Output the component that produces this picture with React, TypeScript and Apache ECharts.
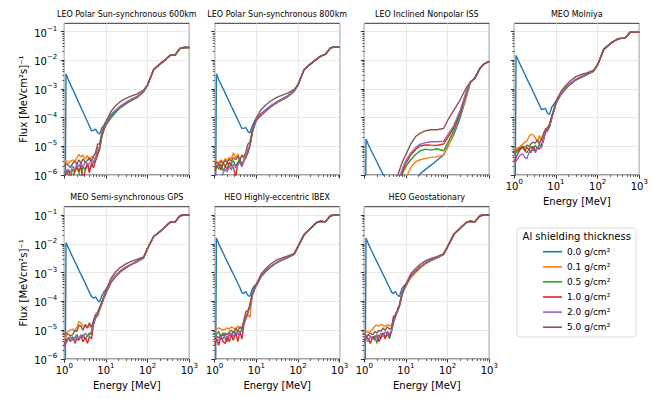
import { useEffect, useRef } from 'react';
import * as echarts from 'echarts';

const FONT = 'DejaVu Sans';

// Energy grid [MeV]
const energy = [1, 1.1, 1.25, 1.4, 1.6, 1.8, 2, 2.25, 2.5, 2.8, 3.2, 3.6, 4, 4.5, 5, 5.6, 6.3, 7, 8, 9,
  10, 13, 17, 22, 30, 40, 55, 80, 100, 140, 200, 280, 350, 450, 600, 750, 1000];

const thickness = ['0.0 g/cm²', '0.1 g/cm²', '0.5 g/cm²', '1.0 g/cm²', '2.0 g/cm²', '5.0 g/cm²'];
const colors = ['#1f77b4', '#ff7f0e', '#2ca02c', '#d62728', '#9467bd', '#8c564b'];
const panelTitles = [
  'LEO Polar Sun-synchronous 600km', 'LEO Polar Sun-synchronous 800km', 'LEO Inclined Nonpolar ISS',
  'MEO Molniya', 'MEO Semi-synchronous GPS', 'HEO Highly-eccentric IBEX', 'HEO Geostationary',
];
const xTickValues = [0, 1, 2, 3]; // log10 of 1, 10, 100, 1000
const yTickValues = [-6, -5, -4, -3, -2, -1];

// ---------- LEO 600 km ----------
const tailLeo600 = [1.4e-3, 4.8e-3, 7.5e-3, 1.1e-2, 1.5e-2, 1.5e-2, 2.6e-2, 2.8e-2, 2.8e-2];
const leo600 = [
  [1e-12, 3.3e-3, 2.1e-3, 1.45e-3, 9.6e-4, 6.6e-4, 4.7e-4, 3.2e-4, 2.3e-4, 1.6e-4, 1.05e-4, 7.2e-5, 5.1e-5, 3.5e-5, 3.6e-5, 4.0e-5, 3.0e-5, 2.7e-5, 4.4e-5, 5.6e-5, 7.2e-5, 1.25e-4, 1.8e-4, 2.5e-4, 3.4e-4, 4.3e-4, 5.4e-4, 8.3e-4, ...tailLeo600],
  [2.8e-6, 3.2e-6, 2.6e-6, 3.0e-6, 3.4e-6, 3.0e-6, 4.0e-6, 5.2e-6, 4.2e-6, 5.0e-6, 3.6e-6, 4.8e-6, 3.2e-6, 4.5e-6, 3.8e-6, 4.2e-6, 6.0e-6, 8.5e-6, 2.6e-5, 4.2e-5, 6.0e-5, 1.1e-4, 1.65e-4, 2.3e-4, 3.1e-4, 3.9e-4, 5.0e-4, 8.0e-4, ...tailLeo600],
  [1.2e-6, 1.5e-6, 1.0e-6, 8e-7, 1.6e-6, 1.3e-6, 2.2e-6, 1.2e-6, 7e-7, 2.0e-6, 1.5e-6, 2.6e-6, 1.4e-6, 2.2e-6, 3.0e-6, 3.4e-6, 5.0e-6, 7.5e-6, 2.2e-5, 3.8e-5, 5.4e-5, 9.5e-5, 1.5e-4, 2.2e-4, 3.0e-4, 3.9e-4, 5.0e-4, 8.0e-4, ...tailLeo600],
  [9e-7, 1.1e-6, 1.4e-6, 1.0e-6, 7e-7, 1.5e-6, 1.8e-6, 1.3e-6, 2.2e-6, 6e-7, 1.6e-6, 2.4e-6, 1.2e-6, 2.6e-6, 1.8e-6, 3.0e-6, 5.5e-6, 8e-6, 2.5e-5, 4.2e-5, 6.0e-5, 1.1e-4, 1.65e-4, 2.35e-4, 3.2e-4, 4.0e-4, 5.1e-4, 8.1e-4, ...tailLeo600],
  [1.0e-6, 1.3e-6, 1.6e-6, 1.2e-6, 2.0e-6, 1.6e-6, 2.4e-6, 2.0e-6, 2.8e-6, 1.8e-6, 3.0e-6, 2.2e-6, 2.6e-6, 3.2e-6, 2.5e-6, 4.0e-6, 9e-6, 9e-6, 2.8e-5, 4.5e-5, 6.2e-5, 1.15e-4, 1.75e-4, 2.45e-4, 3.3e-4, 4.2e-4, 5.3e-4, 8.3e-4, ...tailLeo600],
  [2.0e-6, 2.5e-6, 2.2e-6, 1.8e-6, 2.6e-6, 3.0e-6, 2.4e-6, 3.4e-6, 2.6e-6, 3.6e-6, 2.8e-6, 3.2e-6, 4.0e-6, 3.0e-6, 4.5e-6, 6.0e-6, 1.2e-5, 1.2e-5, 3.0e-5, 5.0e-5, 7.2e-5, 1.6e-4, 2.6e-4, 3.6e-4, 4.7e-4, 5.6e-4, 6.6e-4, 9.2e-4, ...tailLeo600],
];

// ---------- LEO 800 km ----------
const tailLeo800 = [1.4e-3, 4.8e-3, 7.5e-3, 1.1e-2, 1.4e-2, 1.6e-2, 2.7e-2, 2.9e-2, 2.9e-2];
const leo800 = [
  [1e-12, 3.4e-3, 2.1e-3, 1.5e-3, 1.0e-3, 7e-4, 5e-4, 3.5e-4, 2.5e-4, 1.8e-4, 1.2e-4, 8.3e-5, 6e-5, 4.2e-5, 4.3e-5, 4.5e-5, 3.3e-5, 2.9e-5, 5.2e-5, 7.5e-5, 9.5e-5, 1.4e-4, 1.9e-4, 2.6e-4, 3.5e-4, 4.4e-4, 5.6e-4, 8.6e-4, ...tailLeo800],
  [3.3e-6, 3.0e-6, 2.6e-6, 3.4e-6, 2.8e-6, 3.8e-6, 3.2e-6, 4.2e-6, 3.6e-6, 6.0e-6, 4.0e-6, 5.5e-6, 3.4e-6, 4.6e-6, 3.8e-6, 5.0e-6, 7e-6, 1.1e-5, 3.2e-5, 5.5e-5, 8.5e-5, 1.25e-4, 1.75e-4, 2.4e-4, 3.3e-4, 4.2e-4, 5.3e-4, 8.4e-4, ...tailLeo800],
  [1.7e-6, 2.2e-6, 1.6e-6, 2.4e-6, 1.4e-6, 2.0e-6, 2.8e-6, 1.8e-6, 2.5e-6, 3.2e-6, 2.0e-6, 2.8e-6, 3.6e-6, 2.4e-6, 3.0e-6, 4.2e-6, 6e-6, 1.0e-5, 3.0e-5, 5.2e-5, 8.0e-5, 1.2e-4, 1.7e-4, 2.35e-4, 3.2e-4, 4.1e-4, 5.2e-4, 8.3e-4, ...tailLeo800],
  [1.4e-6, 1.8e-6, 2.4e-6, 1.5e-6, 2.6e-6, 2.0e-6, 1.6e-6, 2.8e-6, 2.2e-6, 1.8e-6, 9e-7, 2.6e-6, 3.0e-6, 2.0e-6, 3.4e-6, 4.0e-6, 7e-6, 1.1e-5, 3.2e-5, 5.5e-5, 8.5e-5, 1.25e-4, 1.75e-4, 2.4e-4, 3.3e-4, 4.2e-4, 5.3e-4, 8.4e-4, ...tailLeo800],
  [1.1e-6, 8e-7, 6e-7, 7e-7, 1.2e-6, 1.6e-6, 1.3e-6, 2.0e-6, 1.5e-6, 2.4e-6, 1.8e-6, 2.2e-6, 2.8e-6, 1.9e-6, 3.0e-6, 4.5e-6, 8e-6, 1.0e-5, 3.4e-5, 5.8e-5, 8.8e-5, 1.3e-4, 1.8e-4, 2.5e-4, 3.4e-4, 4.3e-4, 5.4e-4, 8.5e-4, ...tailLeo800],
  [2.5e-6, 2.8e-6, 2.4e-6, 3.0e-6, 2.6e-6, 3.2e-6, 2.8e-6, 3.6e-6, 3.0e-6, 4.0e-6, 3.4e-6, 4.5e-6, 3.2e-6, 5.0e-6, 4.2e-6, 6.5e-6, 1.2e-5, 1.4e-5, 3.6e-5, 6.2e-5, 1.0e-4, 1.9e-4, 2.8e-4, 3.8e-4, 5.0e-4, 6.0e-4, 7.0e-4, 9.5e-4, ...tailLeo800],
];

// ---------- LEO ISS ----------
const tailIss = [1.7e-3, 2.4e-3, 5.3e-3, 7.5e-3, 9.2e-3];
const iss = [
  [1e-12, 1.8e-5, 1.15e-5, 8.1e-6, 5.5e-6, 3.9e-6, 2.9e-6, 2.0e-6, 1.5e-6, 1.07e-6, 7.2e-7, 5e-7, 3.5e-7, 2.5e-7, 1.8e-7, 1.3e-7, 1e-7, 1e-7, 1.1e-7, 1.3e-7, 1.7e-7, 3.5e-7, 6e-7, 1.1e-6, 1.6e-6, 2.2e-6, 3.2e-6, 5e-6, 1.0e-5, 2.5e-5, 1.0e-4, 5e-4, ...tailIss],
  [2e-8, 2e-8, 3e-8, 3e-8, 4e-8, 4e-8, 5e-8, 5e-8, 6e-8, 6e-8, 7e-8, 8e-8, 9e-8, 1e-7, 1.1e-7, 1.3e-7, 1.5e-7, 2e-7, 3e-7, 5e-7, 8e-7, 1.8e-6, 2.9e-6, 3.4e-6, 3.8e-6, 4.1e-6, 4.3e-6, 5e-6, 9e-6, 3.0e-5, 1.3e-4, 5.5e-4, ...tailIss],
  [3e-8, 4e-8, 4e-8, 5e-8, 5e-8, 6e-8, 7e-8, 8e-8, 9e-8, 1e-7, 1.1e-7, 1.3e-7, 1.5e-7, 1.8e-7, 2.2e-7, 2.8e-7, 3.5e-7, 5e-7, 1.0e-6, 1.5e-6, 2.0e-6, 3.4e-6, 5.2e-6, 7.0e-6, 8.0e-6, 7.4e-6, 8.2e-6, 7e-6, 1.3e-5, 3.6e-5, 1.4e-4, 7e-4, ...tailIss],
  [4e-8, 5e-8, 5e-8, 6e-8, 7e-8, 8e-8, 9e-8, 1e-7, 1.2e-7, 1.4e-7, 1.6e-7, 1.9e-7, 2.2e-7, 2.6e-7, 3.2e-7, 4e-7, 5e-7, 7e-7, 1.1e-6, 1.8e-6, 2.6e-6, 5.0e-6, 7.8e-6, 1.05e-5, 1.12e-5, 1.1e-5, 1.08e-5, 1.2e-5, 2.0e-5, 4.5e-5, 1.5e-4, 7.5e-4, ...tailIss],
  [5e-8, 6e-8, 6e-8, 7e-8, 8e-8, 9e-8, 1e-7, 1.2e-7, 1.4e-7, 1.6e-7, 1.9e-7, 2.2e-7, 2.6e-7, 3.1e-7, 3.8e-7, 4.8e-7, 6e-7, 8e-7, 1.5e-6, 2.3e-6, 3.2e-6, 5.8e-6, 9e-6, 1.2e-5, 1.35e-5, 1.45e-5, 1.45e-5, 1.5e-5, 2.5e-5, 5.2e-5, 1.8e-4, 8e-4, ...tailIss],
  [6e-8, 7e-8, 8e-8, 9e-8, 1e-7, 1.1e-7, 1.2e-7, 1.4e-7, 1.6e-7, 1.8e-7, 2e-7, 2.3e-7, 2.6e-7, 3e-7, 3.5e-7, 5e-7, 9e-7, 1.5e-6, 2.6e-6, 3.8e-6, 5.2e-6, 1.2e-5, 2.2e-5, 2.9e-5, 3.5e-5, 3.8e-5, 3.8e-5, 4.2e-5, 8e-5, 1.8e-4, 4.2e-4, 1.1e-3, ...tailIss],
];

// ---------- MEO Molniya ----------
const tailMolniya = [7e-3, 2.4e-2, 3.8e-2, 5.2e-2, 5.8e-2, 5.8e-2, 9.5e-2, 9.6e-2, 9.5e-2];
const molniya = [
  [1e-12, 1.5e-2, 9.9e-3, 6.9e-3, 4.6e-3, 3.2e-3, 2.3e-3, 1.6e-3, 1.2e-3, 8.3e-4, 5.5e-4, 3.8e-4, 2.8e-4, 1.9e-4, 2.0e-4, 2.1e-4, 1.4e-4, 1.3e-4, 2.4e-4, 3.0e-4, 3.8e-4, 7e-4, 1.1e-3, 1.55e-3, 2.15e-3, 2.65e-3, 3.25e-3, 4.2e-3, ...tailMolniya],
  [7.5e-6, 8e-6, 9e-6, 1.0e-5, 1.2e-5, 1.4e-5, 1.5e-5, 2.2e-5, 2.6e-5, 2.5e-5, 2.0e-5, 1.4e-5, 2.4e-5, 1.5e-5, 2.2e-5, 3.5e-5, 4e-5, 5e-5, 1.0e-4, 1.8e-4, 3.2e-4, 6.3e-4, 1.0e-3, 1.45e-3, 2.05e-3, 2.55e-3, 3.15e-3, 4.2e-3, ...tailMolniya],
  [5.5e-6, 6e-6, 7e-6, 8e-6, 9e-6, 7e-6, 6e-6, 8e-6, 1.0e-5, 7e-6, 1.1e-5, 8e-6, 1.2e-5, 1.0e-5, 1.7e-5, 3.3e-5, 4e-5, 4.8e-5, 1.0e-4, 1.8e-4, 3.1e-4, 6.2e-4, 1.0e-3, 1.45e-3, 2.05e-3, 2.55e-3, 3.15e-3, 4.2e-3, ...tailMolniya],
  [3e-6, 4e-6, 6e-6, 8e-6, 1.0e-5, 7e-6, 9e-6, 8e-6, 6e-6, 1.0e-5, 7e-6, 9e-6, 8e-6, 1.1e-5, 1.6e-5, 3.0e-5, 3.5e-5, 5e-5, 1.05e-4, 1.9e-4, 3.3e-4, 6.5e-4, 1.05e-3, 1.5e-3, 2.1e-3, 2.6e-3, 3.2e-3, 4.2e-3, ...tailMolniya],
  [2.6e-6, 3e-6, 4e-6, 5e-6, 5.5e-6, 4e-6, 3.7e-6, 6e-6, 7e-6, 8e-6, 6e-6, 9e-6, 1.1e-5, 9e-6, 1.8e-5, 3.2e-5, 4.2e-5, 5.2e-5, 1.1e-4, 1.95e-4, 3.4e-4, 6.7e-4, 1.08e-3, 1.55e-3, 2.15e-3, 2.7e-3, 3.3e-3, 4.3e-3, ...tailMolniya],
  [6.5e-6, 7e-6, 8e-6, 9e-6, 1.0e-5, 9e-6, 1.1e-5, 1.0e-5, 1.2e-5, 1.4e-5, 1.3e-5, 1.7e-5, 1.2e-5, 1.8e-5, 2.8e-5, 4.0e-5, 4.6e-5, 6e-5, 1.2e-4, 2.1e-4, 3.7e-4, 8e-4, 1.3e-3, 1.9e-3, 2.7e-3, 3.2e-3, 3.6e-3, 4.5e-3, ...tailMolniya],
];

// ---------- MEO GPS ----------
const tailGps = [7e-3, 1.8e-2, 2.7e-2, 4.3e-2, 5.6e-2, 5.6e-2, 9.5e-2, 0.1, 0.1];
const gps = [
  [1e-12, 1.1e-2, 7.3e-3, 5.1e-3, 3.4e-3, 2.4e-3, 1.75e-3, 1.2e-3, 8.7e-4, 6.3e-4, 4.2e-4, 2.9e-4, 2.1e-4, 1.5e-4, 1.3e-4, 1.45e-4, 1.1e-4, 9.5e-5, 1.6e-4, 2.2e-4, 2.6e-4, 4.8e-4, 7.8e-4, 1.15e-3, 1.55e-3, 1.95e-3, 2.45e-3, 3.3e-3, ...tailGps],
  [5e-6, 6e-6, 9e-6, 1.0e-5, 1.1e-5, 9e-6, 1.3e-5, 2.0e-5, 1.8e-5, 1.4e-5, 1.3e-5, 1.2e-5, 1.5e-5, 1.1e-5, 1.8e-5, 2.8e-5, 3.4e-5, 5.2e-5, 8.5e-5, 1.35e-4, 1.9e-4, 4.3e-4, 7.2e-4, 1.05e-3, 1.45e-3, 1.85e-3, 2.35e-3, 3.2e-3, ...tailGps],
  [3.5e-6, 4e-6, 5e-6, 6e-6, 4.5e-6, 5.5e-6, 7e-6, 5e-6, 6e-6, 7e-6, 5e-6, 6.5e-6, 8e-6, 7e-6, 1.5e-5, 2.6e-5, 3.2e-5, 5e-5, 8.5e-5, 1.35e-4, 1.95e-4, 4.4e-4, 7.4e-4, 1.08e-3, 1.48e-3, 1.88e-3, 2.4e-3, 3.25e-3, ...tailGps],
  [3e-6, 4.5e-6, 5.5e-6, 4e-6, 6e-6, 3.5e-6, 5e-6, 4.5e-6, 6.5e-6, 4e-6, 5.5e-6, 3.5e-6, 6e-6, 5e-6, 1.6e-5, 2.8e-5, 3.5e-5, 5.5e-5, 9e-5, 1.4e-4, 2.0e-4, 4.5e-4, 7.5e-4, 1.1e-3, 1.5e-3, 1.9e-3, 2.4e-3, 3.3e-3, ...tailGps],
  [2.5e-6, 3.5e-6, 5e-6, 4.5e-6, 5.5e-6, 4e-6, 6e-6, 5e-6, 7e-6, 5.5e-6, 8e-6, 6e-6, 7e-6, 9e-6, 1.7e-5, 3e-5, 3.6e-5, 5.6e-5, 9.2e-5, 1.45e-4, 2.1e-4, 4.7e-4, 7.8e-4, 1.15e-3, 1.55e-3, 1.95e-3, 2.5e-3, 3.35e-3, ...tailGps],
  [7e-6, 8e-6, 7e-6, 6.5e-6, 7e-6, 1.0e-5, 9e-6, 1.5e-5, 1.4e-5, 1.0e-5, 1.6e-5, 1.2e-5, 1.8e-5, 1.3e-5, 2.2e-5, 3.5e-5, 4.2e-5, 6.2e-5, 1.0e-4, 1.6e-4, 2.4e-4, 6e-4, 1.05e-3, 1.5e-3, 2.0e-3, 2.45e-3, 2.9e-3, 3.5e-3, ...tailGps],
];

// ---------- HEO IBEX ----------
const tailIbex = [8e-3, 2.1e-2, 3.5e-2, 5.5e-2, 6.1e-2, 5.8e-2, 9.5e-2, 0.1, 0.1];
const ibex = [
  [1e-12, 1.6e-2, 1.0e-2, 7.1e-3, 4.8e-3, 3.3e-3, 2.4e-3, 1.7e-3, 1.25e-3, 9e-4, 6e-4, 4.2e-4, 3.1e-4, 2.0e-4, 1.9e-4, 2.2e-4, 1.6e-4, 1.5e-4, 2.7e-4, 3.5e-4, 4.0e-4, 7.6e-4, 1.16e-3, 1.62e-3, 2.2e-3, 2.7e-3, 3.3e-3, 4.3e-3, ...tailIbex],
  [1.0e-5, 1.1e-5, 1.2e-5, 1.1e-5, 1.0e-5, 1.1e-5, 1.2e-5, 1.1e-5, 1.3e-5, 1.2e-5, 1.1e-5, 1.4e-5, 1.2e-5, 1.3e-5, 2.0e-5, 2.6e-5, 3.5e-5, 2.8e-5, 1.6e-4, 2.6e-4, 3.5e-4, 7.2e-4, 1.1e-3, 1.55e-3, 2.15e-3, 2.65e-3, 3.25e-3, 4.3e-3, ...tailIbex],
  [5e-6, 7e-6, 9e-6, 6e-6, 8e-6, 5e-6, 4e-6, 8e-6, 6.5e-6, 9e-6, 7e-6, 1.0e-5, 8e-6, 1.1e-5, 1.8e-5, 2.8e-5, 4.5e-5, 7e-5, 1.7e-4, 2.7e-4, 3.6e-4, 7.3e-4, 1.12e-3, 1.57e-3, 2.17e-3, 2.67e-3, 3.27e-3, 4.3e-3, ...tailIbex],
  [3e-6, 5e-6, 3e-6, 6e-6, 4e-6, 3.5e-6, 6e-6, 4e-6, 7e-6, 4.5e-6, 8e-6, 4e-6, 9e-6, 5e-6, 1.5e-5, 2.5e-5, 4.2e-5, 7e-5, 1.75e-4, 2.75e-4, 3.7e-4, 7.5e-4, 1.15e-3, 1.6e-3, 2.2e-3, 2.7e-3, 3.3e-3, 4.3e-3, ...tailIbex],
  [4e-6, 5e-6, 4.5e-6, 6e-6, 5e-6, 7e-6, 5.5e-6, 6.5e-6, 8e-6, 6e-6, 9e-6, 7e-6, 8e-6, 1.0e-5, 1.7e-5, 2.8e-5, 4.4e-5, 6.5e-5, 1.7e-4, 2.7e-4, 3.7e-4, 7.6e-4, 1.17e-3, 1.63e-3, 2.23e-3, 2.75e-3, 3.35e-3, 4.35e-3, ...tailIbex],
  [5e-6, 6e-6, 5.5e-6, 7e-6, 6.5e-6, 8e-6, 7e-6, 9e-6, 1.0e-5, 8e-6, 1.2e-5, 9e-6, 1.3e-5, 1.1e-5, 2.2e-5, 4.5e-5, 4.8e-5, 7.5e-5, 1.9e-4, 3.0e-4, 4.0e-4, 9e-4, 1.4e-3, 2.0e-3, 2.7e-3, 3.2e-3, 3.7e-3, 4.6e-3, ...tailIbex],
];

// ---------- HEO Geostationary ----------
const tailGeo = [8e-3, 2.1e-2, 3.5e-2, 5.5e-2, 6.1e-2, 5.8e-2, 9.5e-2, 0.1, 0.1];
const geo = [
  [1e-12, 1.6e-2, 1.0e-2, 7.0e-3, 4.7e-3, 3.3e-3, 2.4e-3, 1.7e-3, 1.25e-3, 9e-4, 6e-4, 4.2e-4, 3.1e-4, 2.1e-4, 1.9e-4, 2.2e-4, 1.6e-4, 1.5e-4, 2.8e-4, 3.5e-4, 4.0e-4, 7.5e-4, 1.15e-3, 1.6e-3, 2.2e-3, 2.7e-3, 3.3e-3, 4.3e-3, ...tailGeo],
  [8e-6, 9e-6, 8.5e-6, 9e-6, 1.1e-5, 1.4e-5, 1.5e-5, 1.4e-5, 1.6e-5, 1.5e-5, 1.3e-5, 1.6e-5, 1.4e-5, 1.5e-5, 2.2e-5, 3.2e-5, 4.6e-5, 7e-5, 1.6e-4, 2.5e-4, 3.4e-4, 6.5e-4, 1.0e-3, 1.45e-3, 2.05e-3, 2.6e-3, 3.2e-3, 4.3e-3, ...tailGeo],
  [4.5e-6, 5.5e-6, 7e-6, 6e-6, 5e-6, 6.5e-6, 3.5e-6, 7e-6, 5e-6, 8e-6, 6e-6, 7.5e-6, 5e-6, 9e-6, 1.8e-5, 3.0e-5, 4.8e-5, 7.2e-5, 1.7e-4, 2.7e-4, 3.6e-4, 7.2e-4, 1.1e-3, 1.55e-3, 2.15e-3, 2.65e-3, 3.25e-3, 4.3e-3, ...tailGeo],
  [4e-6, 6e-6, 5e-6, 3.5e-6, 6e-6, 5e-6, 7e-6, 4e-6, 6e-6, 8e-6, 5e-6, 9e-6, 6e-6, 1.0e-5, 3e-5, 3.2e-5, 5e-5, 7.5e-5, 1.75e-4, 2.75e-4, 3.7e-4, 7.4e-4, 1.13e-3, 1.6e-3, 2.2e-3, 2.7e-3, 3.3e-3, 4.3e-3, ...tailGeo],
  [3.5e-6, 5e-6, 4e-6, 6e-6, 5e-6, 4.5e-6, 7e-6, 5.5e-6, 8e-6, 6e-6, 9e-6, 7e-6, 8e-6, 9e-6, 1.8e-5, 3.0e-5, 4.6e-5, 6.8e-5, 1.7e-4, 2.7e-4, 3.75e-4, 7.6e-4, 1.16e-3, 1.62e-3, 2.22e-3, 2.75e-3, 3.35e-3, 4.35e-3, ...tailGeo],
  [5e-6, 6e-6, 7e-6, 8e-6, 7e-6, 9e-6, 8e-6, 1.0e-5, 9e-6, 1.2e-5, 1.0e-5, 1.3e-5, 1.1e-5, 1.2e-5, 2.4e-5, 3.6e-5, 5.2e-5, 7.8e-5, 1.9e-4, 3.0e-4, 4.0e-4, 9e-4, 1.4e-3, 1.95e-3, 2.6e-3, 3.1e-3, 3.6e-3, 4.6e-3, ...tailGeo],
];

const panelData = [leo600, leo800, iss, molniya, gps, ibex, geo];

// layout
const colLeft = [64.3, 214.7, 364.3, 514.3];
const rowTop = [23.3, 206.7];
const rowHeight = [151.7, 152.3];
const panelWidth = 125;
const panelPos = [[0, 0], [0, 1], [0, 2], [0, 3], [1, 0], [1, 1], [1, 2]];
const showYLabels = [true, false, false, false, true, false, false];
const showXLabels = [false, false, false, true, true, true, true];
const Y_MIN = -6;
const Y_MAX = -0.71;

const minorX: number[] = [];
for (let d = 0; d < 3; d++) for (let m = 2; m <= 9; m++) minorX.push(Math.log10(m * Math.pow(10, d)));
const minorY: number[] = [];
for (let d = -6; d < 0; d++) for (let m = 2; m <= 9; m++) {
  const v = Math.log10(m * Math.pow(10, d));
  if (v < Y_MAX) minorY.push(v);
}

const powLabel = (v: number) => {
  const n = Math.round(v);
  return `{b|10}{s|${n < 0 ? '\u2212' + -n : n}}`;
};
const labelRich = {
  b: { fontFamily: FONT, fontSize: 10, color: '#000', lineHeight: 13, verticalAlign: 'bottom' },
  s: { fontFamily: FONT, fontSize: 7, color: '#000', lineHeight: 8, verticalAlign: 'top' },
};

function buildOption() {
  const grid: any[] = [];
  const xAxis: any[] = [];
  const yAxis: any[] = [];
  const series: any[] = [];
  const graphic: any[] = [];

  panelPos.forEach(([r, c], i) => {
    const left = colLeft[c];
    const top = rowTop[r];
    const h = rowHeight[r];
    grid.push({
      left, top, width: panelWidth, height: h, show: true,
      borderColor: '#000', borderWidth: 0.8, backgroundColor: 'transparent',
      containLabel: false,
    });
    xAxis.push({
      type: 'value', gridIndex: i, min: 0, max: 3, interval: 1, position: 'bottom',
      axisLine: { show: false },
      axisTick: { show: true, length: 3.5, inside: false, customValues: xTickValues, lineStyle: { color: '#000', width: 0.8 } },
      splitLine: { show: true, lineStyle: { color: '#e2e2e2', width: 0.8 } },
      axisLabel: {
        show: showXLabels[i], margin: 3, formatter: powLabel, rich: labelRich,
        customValues: xTickValues, showMinLabel: true, showMaxLabel: true,
      },
      name: showXLabels[i] ? 'Energy [MeV]' : '',
      nameLocation: 'middle', nameGap: 21,
      nameTextStyle: { fontFamily: FONT, fontSize: 10, color: '#000' },
    });
    xAxis.push({
      type: 'value', gridIndex: i, min: 0, max: 3, position: 'bottom', offset: 0,
      axisLine: { show: false },
      axisTick: { show: true, length: 2, inside: false, customValues: minorX, lineStyle: { color: '#000', width: 0.6 } },
      splitLine: { show: false },
      axisLabel: { show: false },
    });
    yAxis.push({
      type: 'value', gridIndex: i, min: Y_MIN, max: Y_MAX, interval: 1, position: 'left',
      axisLine: { show: false },
      axisTick: { show: true, length: 3.5, inside: false, customValues: yTickValues, lineStyle: { color: '#000', width: 0.8 } },
      splitLine: { show: true, lineStyle: { color: '#e2e2e2', width: 0.8 } },
      axisLabel: {
        show: showYLabels[i], margin: 7, formatter: (v: number) => (v > -0.9 ? '' : powLabel(v)), rich: labelRich,
        customValues: yTickValues,
      },
      name: showYLabels[i] ? 'Flux [MeVcm²s]⁻¹' : '',
      nameLocation: 'middle', nameGap: 36, nameRotate: 90,
      nameTextStyle: { fontFamily: FONT, fontSize: 10, color: '#000' },
    });
    yAxis.push({
      type: 'value', gridIndex: i, min: Y_MIN, max: Y_MAX, position: 'left', offset: 0,
      axisLine: { show: false },
      axisTick: { show: true, length: 2, inside: false, customValues: minorY, lineStyle: { color: '#000', width: 0.6 } },
      splitLine: { show: false },
      axisLabel: { show: false },
    });

    panelData[i].forEach((vals, s) => {
      series.push({
        type: 'line', name: thickness[s], xAxisIndex: 2 * i, yAxisIndex: 2 * i,
        data: energy.map((e, k) => [Math.log10(e), Math.log10(vals[k])]),
        showSymbol: false, symbol: 'none', clip: true, silent: true,
        lineStyle: { color: colors[s], width: 1.4 },
        itemStyle: { color: colors[s] },
      });
    });

    graphic.push({
      type: 'text', x: left + panelWidth / 2, y: r === 0 ? 14 : 197.3, silent: true,
      style: {
        text: panelTitles[i], fill: '#000', font: `8px "${FONT}"`,
        textAlign: 'center', textVerticalAlign: 'middle',
      },
    });
  });

  graphic.push({
    type: 'rect', shape: { x: 517, y: 228, width: 119, height: 109, r: 3 }, silent: true,
    style: { fill: '#fff', stroke: '#d0d0d0', lineWidth: 0.8 }, z: 0,
  });
  graphic.push({
    type: 'text', x: 576.7, y: 236.5, silent: true,
    style: {
      text: 'Al shielding thickness', fill: '#000', font: `10px "${FONT}"`,
      textAlign: 'center', textVerticalAlign: 'middle',
    },
  });

  return {
    animation: false,
    backgroundColor: '#fff',
    grid, xAxis, yAxis, series, graphic,
    legend: {
      data: thickness.map((name, s) => ({ name, icon: 'rect', itemStyle: { color: colors[s] } })),
      orient: 'vertical', left: 543, top: 246.7,
      itemWidth: 19, itemHeight: 1.6, itemGap: 5.1, padding: 0,
      selectedMode: false,
      textStyle: { fontFamily: FONT, fontSize: 9, color: '#000', lineHeight: 10 },
    },
  };
}

export default function App() {
  const ref = useRef<HTMLDivElement>(null);
  useEffect(() => {
    const chart = echarts.init(ref.current!, null, { renderer: 'svg' });
    chart.setOption(buildOption() as any);
    return () => chart.dispose();
  }, []);
  return (
    <div
      ref={ref}
      style={{ position: 'fixed', left: 0, top: 0, width: 652, height: 399, background: '#fff' }}
    />
  );
}
